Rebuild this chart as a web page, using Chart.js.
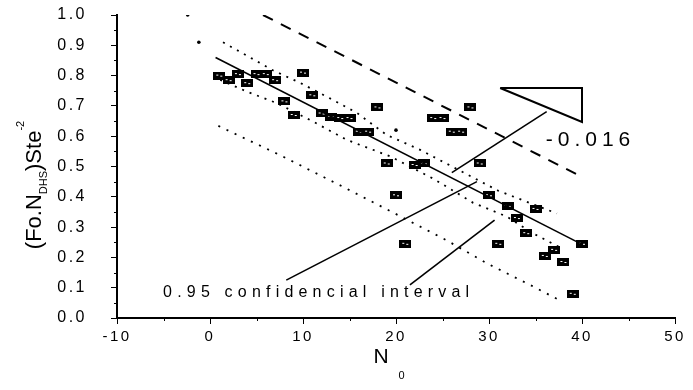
<!DOCTYPE html>
<html>
<head>
<meta charset="utf-8">
<script src="https://cdn.jsdelivr.net/npm/chart.js@4.4.1/dist/chart.umd.min.js"></script>
<style>
  html, body { margin: 0; padding: 0; background: #fff; }
  #wrap { width: 693px; height: 390px; }
</style>
</head>
<body>
<div id="wrap"><canvas id="chart"></canvas></div>
<script>
// measured points: N0 against (Fo.N_DHS)Ste^-2
const nValues = [1, 2, 3, 4, 5, 6, 7, 8, 9, 10, 11, 12, 13, 14, 15, 16, 17, 18, 19, 20,
                 21, 22, 23, 24, 25, 26, 27, 28, 29, 30, 31, 32, 33, 34, 35, 36, 37, 38, 39, 40];
const ratioValues = [0.80, 0.785, 0.805, 0.775, 0.805, 0.805, 0.785, 0.715, 0.67, 0.81,
                     0.735, 0.675, 0.665, 0.66, 0.66, 0.615, 0.615, 0.695, 0.51, 0.405,
                     0.245, 0.505, 0.51, 0.66, 0.66, 0.615, 0.615, 0.695, 0.51, 0.405,
                     0.245, 0.37, 0.33, 0.28, 0.36, 0.205, 0.225, 0.185, 0.08, 0.245];

// fitted line (slope about -0.016)
const fitX = [0.6, 40];
const fitY = [0.86, 0.243];

// 0.95 confidence band (dotted, inner)
const confUpX = [1.4, 6.8, 9.7, 13.2, 15.8, 19, 22.6, 25.4, 31, 37.3];
const confUpY = [0.91, 0.817, 0.776, 0.72, 0.677, 0.604, 0.555, 0.51, 0.42, 0.345];
const confLoX = [1.1, 3.9, 7.2, 11.1, 14.7, 19.4, 24, 28.3, 31.9, 34.7, 37.5];
const confLoY = [0.786, 0.748, 0.709, 0.648, 0.588, 0.533, 0.46, 0.38, 0.335, 0.28, 0.235];

// outer band: dashed upper, dotted lower
const bandUpX = [5.7, 39.4];
const bandUpY = [1.0, 0.475];
const bandLoX = [0.9, 7.5, 14.3, 19.5, 25.4, 29.8, 35, 37.5];
const bandLoY = [0.634, 0.538, 0.433, 0.351, 0.257, 0.18, 0.10, 0.06];

// slope triangle and leader lines
const triX = [31.2, 40, 40, 31.2];
const triY = [0.759, 0.759, 0.647, 0.759];
const leadAX = [36.2, 26];
const leadAY = [0.681, 0.48];
const leadBX = [8.2, 28.7];
const leadBY = [0.125, 0.45];
const leadCX = [21.5, 30.6];
const leadCY = [0.109, 0.323];

// stray dots
const strayX = [-2.4, -1.2, 20];
const strayY = [1.0, 0.91, 0.62];

const slopeLabel = '-0.016';
const bandLabel = '0.95 confidencial interval';

const xTicks = [-10, 0, 10, 20, 30, 40, 50];
const yTicks = [0.0, 0.1, 0.2, 0.3, 0.4, 0.5, 0.6, 0.7, 0.8, 0.9, 1.0];

const pairs = (xs, ys) => xs.map((x, i) => ({ x: x, y: ys[i] }));

// scanned-looking box marker
const marker = document.createElement('canvas');
marker.width = 12;
marker.height = 8;
const mctx = marker.getContext('2d');
mctx.fillStyle = '#000';
mctx.fillRect(0, 0, 12, 8);
mctx.fillStyle = '#fff';
mctx.fillRect(3, 3, 2, 1);
mctx.fillRect(7, 4, 2, 1);

function lineSet(xs, ys, width, dash) {
    return {
        type: 'line',
        data: pairs(xs, ys),
        borderColor: '#000',
        borderWidth: width,
        borderDash: dash || [],
        pointRadius: 0,
        fill: false,
        tension: 0
    };
}

const sans = '"Liberation Sans", Arial, sans-serif';

const extras = {
    id: 'extras',
    beforeDraw(chart) {
        chart.ctx.letterSpacing = '2.5px';
    },
    afterDraw(chart) {
        const ctx = chart.ctx;
        const xs = chart.scales.x;
        const ys = chart.scales.y;
        const area = chart.chartArea;
        ctx.save();
        ctx.strokeStyle = '#000';
        ctx.lineWidth = 1;
        // minor ticks
        for (let v = 0.05; v < 1; v += 0.1) {
            const py = Math.round(ys.getPixelForValue(v)) + 0.5;
            ctx.beginPath();
            ctx.moveTo(area.left - 3, py);
            ctx.lineTo(area.left, py);
            ctx.stroke();
        }
        for (let v = -5; v < 50; v += 10) {
            const px = Math.round(xs.getPixelForValue(v)) + 0.5;
            ctx.beginPath();
            ctx.moveTo(px, area.bottom);
            ctx.lineTo(px, area.bottom + 3);
            ctx.stroke();
        }

        ctx.fillStyle = '#000';
        ctx.textBaseline = 'middle';
        ctx.textAlign = 'left';

        // slope value
        ctx.letterSpacing = '5px';
        ctx.font = '21px ' + sans;
        ctx.fillText(slopeLabel, xs.getPixelForValue(36.1), ys.getPixelForValue(0.587));

        // band label
        ctx.letterSpacing = '5.2px';
        ctx.font = '16px ' + sans;
        ctx.fillText(bandLabel, xs.getPixelForValue(-5.05), ys.getPixelForValue(0.083));

        // x axis title: N with subscript 0
        ctx.letterSpacing = '0px';
        ctx.textAlign = 'center';
        ctx.font = '21px ' + sans;
        ctx.fillText('N', xs.getPixelForValue(18.4), 357);
        ctx.font = '11px ' + sans;
        ctx.fillText('0', xs.getPixelForValue(20.6), 376);

        // y axis title: (Fo.N_DHS)Ste^-2
        ctx.translate(33, 185);
        ctx.rotate(-Math.PI / 2);
        ctx.textAlign = 'left';
        ctx.textBaseline = 'alphabetic';
        const big = '22px ' + sans;
        const small = '11px ' + sans;
        const parts = [
            { t: '(Fo.N', f: big, dy: 0 },
            { t: 'DHS', f: small, dy: 6 },
            { t: ')Ste', f: big, dy: 0 },
            { t: '-2', f: small, dy: -17 }
        ];
        let total = 0;
        parts.forEach(p => { ctx.font = p.f; total += ctx.measureText(p.t).width; });
        let pos = -total / 2;
        parts.forEach(p => {
            ctx.font = p.f;
            ctx.fillText(p.t, pos, 8 + p.dy);
            pos += ctx.measureText(p.t).width;
        });
        ctx.restore();
    }
};

const ctx = document.getElementById('chart').getContext('2d');
new Chart(ctx, {
    type: 'scatter',
    data: {
        datasets: [
            lineSet(bandUpX, bandUpY, 2, [11, 9]),
            lineSet(bandLoX, bandLoY, 1.8, [2, 7]),
            lineSet(confUpX, confUpY, 1.8, [2, 6]),
            lineSet(confLoX, confLoY, 1.8, [2, 6]),
            lineSet(fitX, fitY, 1.6),
            lineSet(triX, triY, 2),
            lineSet(leadAX, leadAY, 1.6),
            lineSet(leadBX, leadBY, 1.6),
            lineSet(leadCX, leadCY, 1.6),
            {
                type: 'scatter',
                data: pairs(nValues, ratioValues),
                pointStyle: marker,
                pointRadius: 6
            },
            {
                type: 'scatter',
                data: pairs(strayX, strayY),
                pointStyle: 'circle',
                pointRadius: 1.8,
                backgroundColor: '#000',
                borderWidth: 0
            }
        ]
    },
    options: {
        responsive: true,
        maintainAspectRatio: false,
        animation: false,
        layout: { padding: { top: 15, right: 18, left: 0, bottom: 0 } },
        plugins: { legend: { display: false }, tooltip: { enabled: false } },
        scales: {
            x: {
                type: 'linear',
                min: -10,
                max: 50,
                afterFit: s => { s.height = 72; s.paddingLeft = 0; s.paddingRight = 0; },
                afterBuildTicks: s => { s.ticks = xTicks.map(v => ({ value: v })); },
                ticks: { color: '#000', font: { family: sans, size: 15 }, padding: 4, maxRotation: 0 },
                grid: { drawOnChartArea: false, color: '#000', tickLength: 6, lineWidth: 1 },
                border: { color: '#000', width: 2 }
            },
            y: {
                type: 'linear',
                min: 0,
                max: 1,
                afterFit: s => { s.width = 117; s.paddingTop = 0; s.paddingBottom = 0; },
                afterBuildTicks: s => { s.ticks = yTicks.map(v => ({ value: v })); },
                ticks: { color: '#000', font: { family: sans, size: 16 }, padding: 24,
                         callback: v => v.toFixed(1) },
                grid: { drawOnChartArea: false, color: '#000', tickLength: 6, lineWidth: 1 },
                border: { color: '#000', width: 2 }
            }
        }
    },
    plugins: [extras]
});
</script>
</body>
</html>
